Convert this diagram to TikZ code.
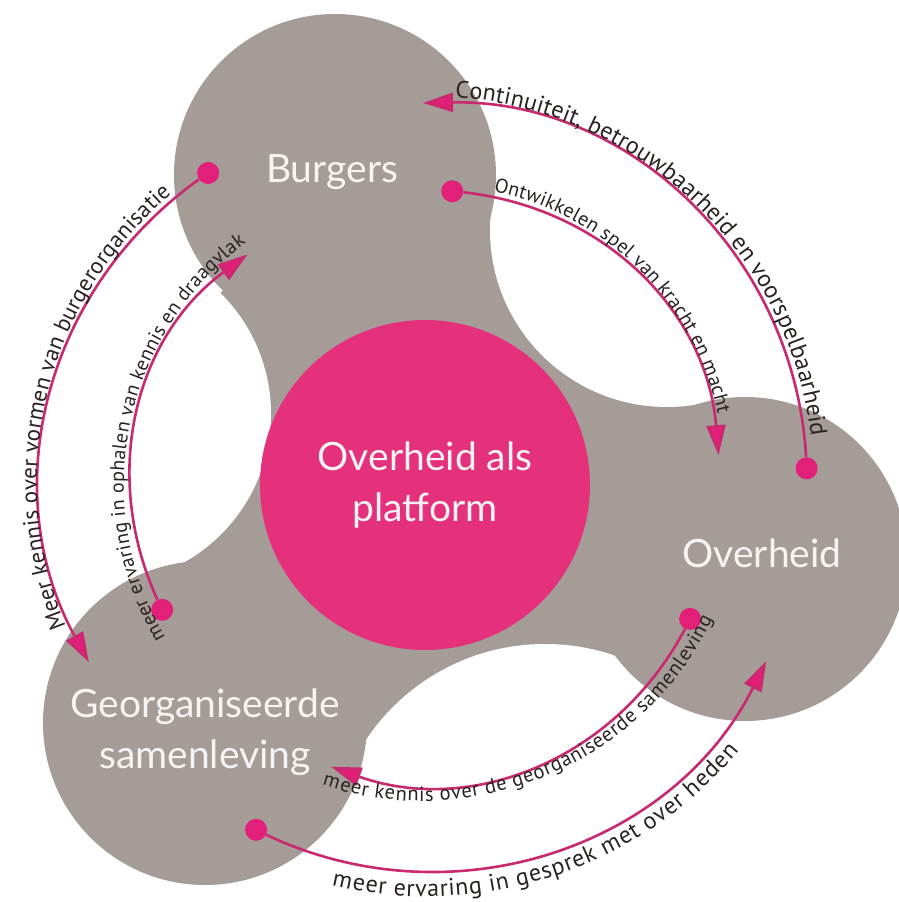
\documentclass[tikz,border=0pt]{standalone}
\usepackage{fontspec}
\setmainfont{Lato}
\newfontfamily\arcfont{PT Sans}
\usetikzlibrary{positioning,arrows.meta,decorations.text}

\definecolor{blobgray}{HTML}{A59C98}
\definecolor{platpink}{HTML}{E5307C}
\definecolor{linepink}{HTML}{C8296F}
\definecolor{dotpink}{HTML}{E2207A}
\definecolor{arctext}{HTML}{2A2220}
\definecolor{blobtext}{HTML}{F8F3F3}

\begin{document}
\begin{tikzpicture}[x=1pt, y=1pt,
      blobname/.style={text=blobtext, font=\fontsize{39}{51}\selectfont, align=center, inner sep=0pt},
      platform/.style={circle, fill=platpink, minimum size=330pt, inner sep=0pt,
        text=blobtext, font=\fontsize{39}{51}\selectfont, align=center},
      dot/.style={circle, fill=dotpink, minimum size=22pt, inner sep=0pt},
      flow/.style={draw=linepink, line width=2.6pt, -{Triangle[length=30pt,width=19pt,fill=dotpink]}},
      arclabel/.style n args={3}{decorate, decoration={text along path,
        text={|\arcfont\fontsize{#1}{#1}\selectfont\color{arctext}|#3},
        text align=center, raise=#2}},
  ]
  \useasboundingbox (-425,-417) rectangle (474,485);
  %.
  \fill[blobgray] (-90,310) -- (242,255) -- (320,-74) -- (120,-374) -- (-220,-238) -- (-322,71) -- cycle;
  \fill[white] (242,255) circle[radius=177pt];
  \fill[white] (120,-374) circle[radius=215pt];
  \fill[white] (-324,71) circle[radius=170pt];
  \fill[blobgray] (-90,310) circle[radius=161pt];
  \fill[blobgray] (320,-74) circle[radius=162pt];
  \fill[blobgray] (-220,-238) circle[radius=162pt];
  %.
  \node[platform] (plat) at (0,0) {Overheid als\\platform};
  \node[blobname, anchor=base] (burgers) at (-93,302) {Burgers};
  \node[blobname, anchor=base] (overheid) at (337,-82) {Overheid};
  \node[blobname] (samenleving) at (-220,-247) {Georganiseerde\\samenleving};
  %.
  \node[dot] (dcont) at (2.5:382) {};
  \coordinate (tcont) at (90.3:382);
  \node[dot] (dontw) at (84.7:295) {};
  \coordinate (tontw) at (5.8:295);
  \node[dot] (dvorm) at (124.8:380) {};
  \coordinate (tvorm) at (207.8:380);
  \node[dot] (dopha) at (205.4:291) {};
  \coordinate (topha) at (127.6:291);
  \node[dot] (dgeor) at (333.2:297) {};
  \coordinate (tgeor) at (251.6:297);
  \node[dot] (dgesp) at (243.9:384) {};
  \coordinate (tgesp) at (332.7:384);
  %.
  \draw[flow] (dcont) to[bend right=43.9] (tcont);
  \draw[flow] (dontw) to[bend left=39.5] (tontw);
  \draw[flow] (dvorm) to[bend right=41.5] (tvorm);
  \draw[flow] (dopha) to[bend left=38.9] (topha);
  \draw[flow] (dgeor) to[bend left=40.8] (tgeor);
  \draw[flow] (dgesp) to[bend right=44.4] (tgesp);
  %.
  \coordinate (aopha) at (213.5:291);
  \coordinate (bopha) at (123.5:291);
  \coordinate (ageor) at (245.5:297);
  \coordinate (bgeor) at (340.5:297);
  \path[arclabel={24}{7pt}{Continuiteit, betrouwbaarheid en voorspelbaarheid}] (tcont) to[bend left=43.9] (dcont.center);
  \path[arclabel={20}{6pt}{Ontwikkelen spel van kracht en macht}] (dontw.center) to[bend left=39.5] (tontw);
  \path[arclabel={23}{6pt}{Meer kennis over vormen van burgerorganisatie}] (tvorm) to[bend left=41.5] (dvorm.center);
  \path[arclabel={20}{10pt}{meer ervaring in ophalen van kennis en draagvlak}] (aopha) to[bend left=45] (bopha);
  \path[arclabel={20.5}{-20pt}{meer kennis over de georganiseerde samenleving}] (ageor) to[bend right=47.5] (bgeor);
  \path[arclabel={24}{-27pt}{meer ervaring in gesprek met over heden}] (dgesp.center) to[bend right=44.4] (tgesp);
  %.
\end{tikzpicture}
\end{document}
